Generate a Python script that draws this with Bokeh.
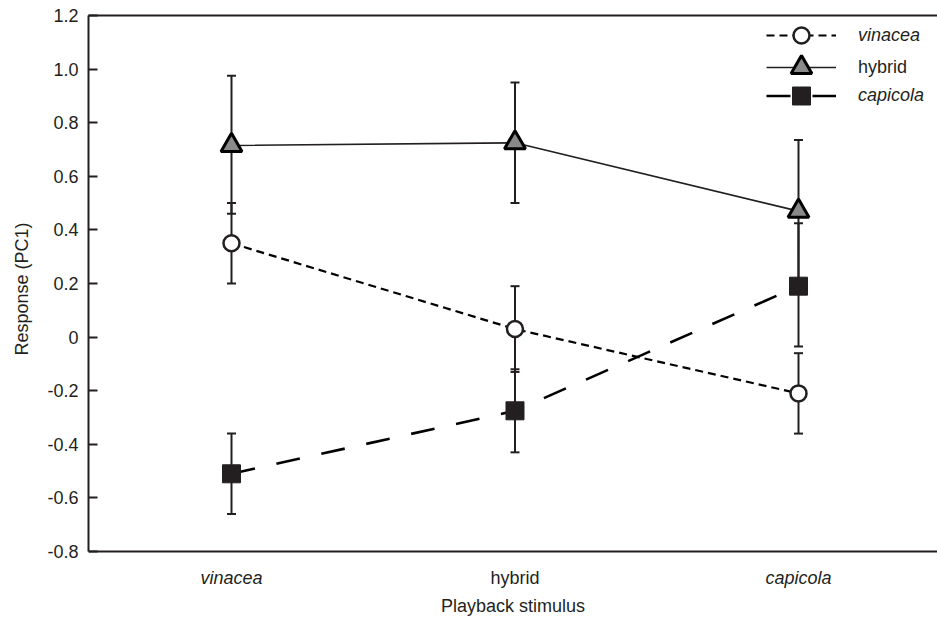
from bokeh.plotting import figure
from bokeh.models import (ColumnDataSource, Whisker, TeeHead, Legend, LegendItem,
                          FixedTicker, LinearAxis, Range1d, Span, Title)
from bokeh.core.properties import value
from bokeh.embed import file_html
from bokeh.resources import INLINE

categories = ["vinacea", "hybrid", "capicola"]
category_italic = [True, False, True]

vin_y = [0.35, 0.03, -0.21]
vin_lo = [0.20, -0.13, -0.36]
vin_hi = [0.50, 0.19, -0.06]

hyb_y = [0.715, 0.725, 0.47]
hyb_lo = [0.46, 0.50, 0.205]
hyb_hi = [0.975, 0.95, 0.735]

cap_y = [-0.51, -0.275, 0.19]
cap_lo = [-0.66, -0.43, -0.035]
cap_hi = [-0.36, -0.12, 0.425]

ytick_values = [-0.8, -0.6, -0.4, -0.2, 0, 0.2, 0.4, 0.6, 0.8, 1.0, 1.2]
ytick_labels = ["-0.8", "-0.6", "-0.4", "-0.2", "0", "0.2", "0.4", "0.6", "0.8", "1.0", "1.2"]
y_axis_min, y_axis_max = -0.8, 1.2

INK = "#231f20"
FONT = "Liberation Sans"
FS = "18px"

xs = list(range(len(categories)))

p = figure(width=937, height=618, output_backend="svg", toolbar_location=None,
           x_range=Range1d(-0.5044, 2.4903), y_range=Range1d(-0.9455, y_axis_max),
           min_border_left=88, min_border_top=15, min_border_bottom=28, min_border_right=0)
p.outline_line_color = None
p.grid.visible = False
p.background_fill_color = "white"

# y axis
ya = p.yaxis[0]
ya.ticker = FixedTicker(ticks=ytick_values)
ya.bounds = (y_axis_min, y_axis_max)
ya.major_label_overrides = {v: l for v, l in zip(ytick_values, ytick_labels)}
ya.minor_tick_line_color = None
ya.major_tick_in = 9
ya.major_tick_out = 0
ya.major_tick_line_color = INK
ya.major_tick_line_width = 2
ya.axis_line_color = INK
ya.axis_line_width = 2
ya.major_label_text_font = FONT
ya.major_label_text_font_size = FS
ya.major_label_text_color = INK
ya.major_label_standoff = 10

p.add_layout(Title(text="Response (PC1)", align="left", offset=235, standoff=21,
                   vertical_align="top",
                   text_font=FONT, text_font_size=FS, text_font_style="normal",
                   text_color=INK), "left")

# x axis (label only)
xa = p.xaxis[0]
xa.ticker = FixedTicker(ticks=[])
xa.major_tick_line_color = None
xa.minor_tick_line_color = None
xa.axis_line_color = None
xa.axis_label = "Playback stimulus"
xa.axis_label_text_font = FONT
xa.axis_label_text_font_size = FS
xa.axis_label_text_font_style = "normal"
xa.axis_label_text_color = INK
xa.axis_label_standoff = 5

top = LinearAxis(ticker=FixedTicker(ticks=[]), axis_line_color=INK, axis_line_width=2,
                 major_tick_line_color=None, minor_tick_line_color=None,
                 major_label_text_font_size="0px")
p.add_layout(top, "above")

p.add_layout(Span(location=y_axis_min, dimension="width", line_color=INK, line_width=2))

# category labels
label_y = y_axis_min - 0.1
for italic in (True, False):
    sel = [i for i in xs if category_italic[i] == italic]
    p.text(x=[xs[i] for i in sel], y=[label_y] * len(sel), text=[categories[i] for i in sel],
           text_align="center", text_baseline="middle", text_font=value(FONT),
           text_font_size=FS, text_color=INK,
           text_font_style="italic" if italic else "normal")

def series(y, lo, hi):
    return ColumnDataSource(dict(x=xs, y=y, lo=lo, hi=hi))

src_v = series(vin_y, vin_lo, vin_hi)
src_h = series(hyb_y, hyb_lo, hyb_hi)
src_c = series(cap_y, cap_lo, cap_hi)

for src in (src_v, src_h, src_c):
    p.add_layout(Whisker(source=src, base="x", lower="lo", upper="hi",
                         line_color=INK, line_width=2,
                         upper_head=TeeHead(size=9, line_color=INK, line_width=2),
                         lower_head=TeeHead(size=9, line_color=INK, line_width=2)))

lv = p.line("x", "y", source=src_v, line_color="black", line_width=2.2, line_dash="8 5")
lh = p.line("x", "y", source=src_h, line_color=INK, line_width=1.6)
lc = p.line("x", "y", source=src_c, line_color="black", line_width=2.6, line_dash="24 22")

mh = p.scatter("x", "y", source=src_h, marker="triangle", size=21, fill_color="#8a8a8a",
               line_color="black", line_width=3)
mc = p.scatter("x", "y", source=src_c, marker="square", size=18, fill_color=INK,
               line_color=INK, line_width=1)
mv = p.scatter("x", "y", source=src_v, marker="circle", size=16, fill_color="white",
               line_color=INK, line_width=2.5)

legend_rows = [("vinacea", [lv, mv], "italic", 535, 40),
               ("hybrid", [lh, mh], "normal", 497, 52),
               ("capicola", [lc, mc], "italic", 472, 45)]
for label, rends, style, ypos, gh in legend_rows:
    lg = Legend(items=[LegendItem(label=label, renderers=rends)],
                location=(678, ypos), glyph_width=70, glyph_height=gh,
                label_standoff=22, padding=0, margin=0, border_line_color=None,
                background_fill_alpha=0, label_text_font=FONT, label_text_font_size=FS,
                label_text_font_style=style, label_text_color=INK, label_height=gh)
    p.add_layout(lg)

open("out.html", "w").write(file_html(p, INLINE))
